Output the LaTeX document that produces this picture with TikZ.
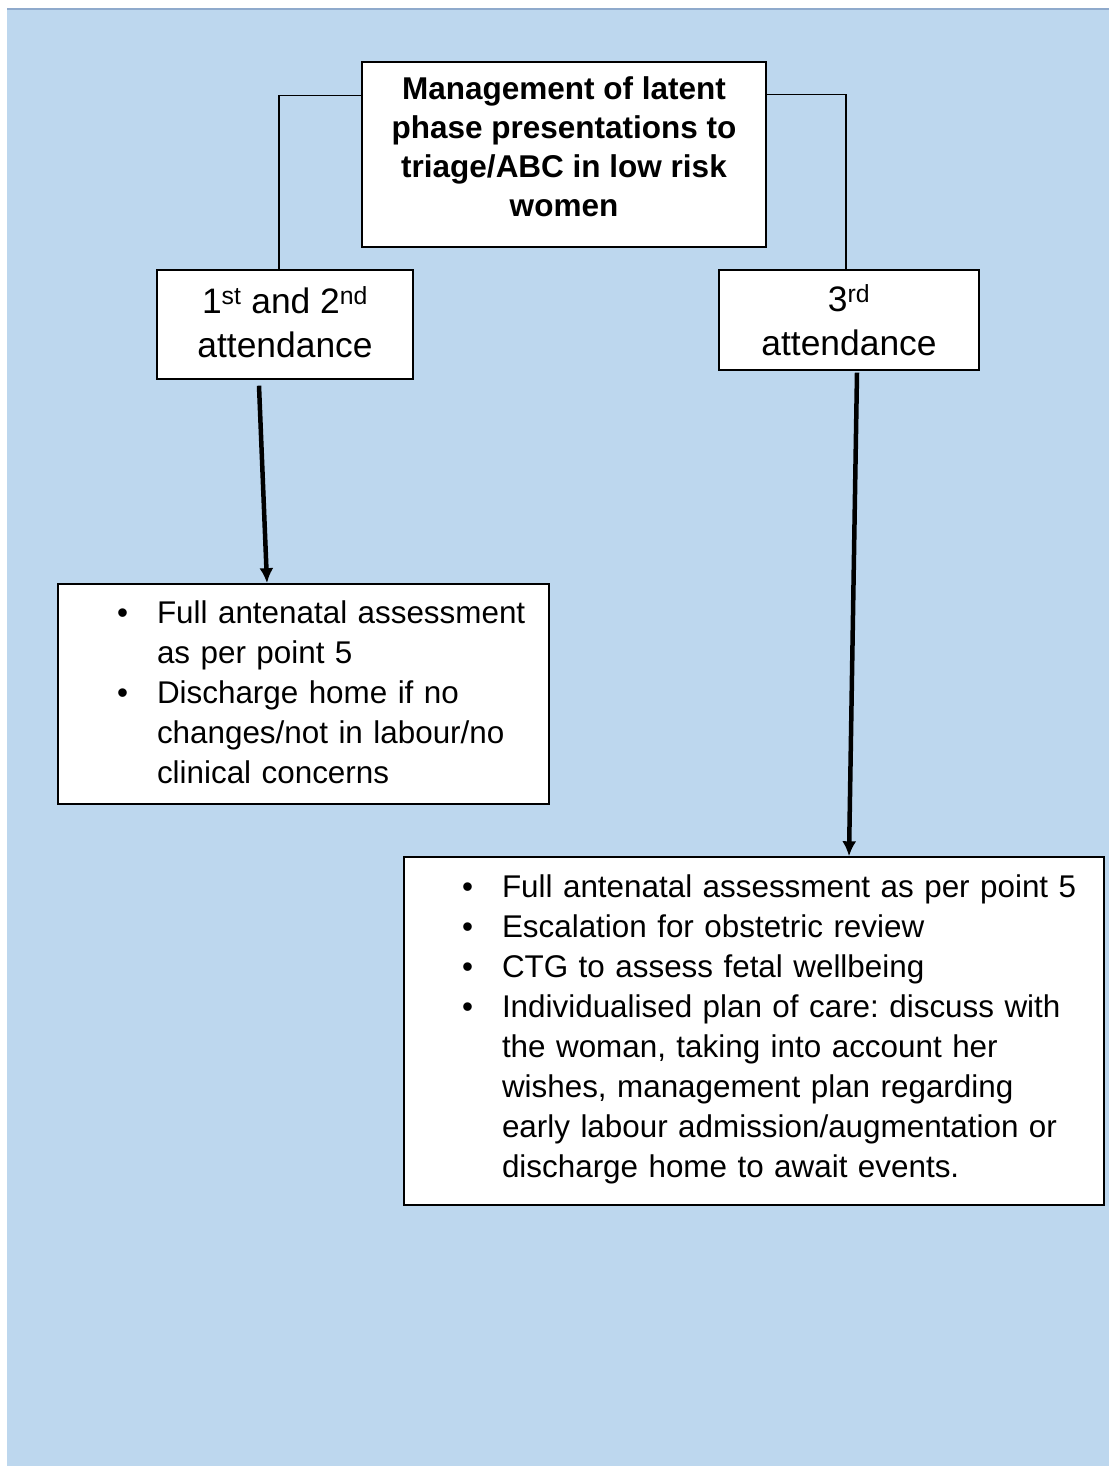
\documentclass[tikz,border=0pt]{standalone}
\usepackage{fontspec}
\setmainfont{Liberation Sans}
\usetikzlibrary{arrows.meta}

\definecolor{hintergrund}{RGB}{189,215,238}
\definecolor{kante}{RGB}{143,170,204}

\frenchspacing

\newenvironment{punktliste}[1]{%
  \begin{list}{\textbullet}{%
    \setlength{\leftmargin}{#1}\setlength{\labelsep}{29pt}%
    \setlength{\itemsep}{0pt}\setlength{\topsep}{0pt}%
    \setlength{\parsep}{0pt}\setlength{\partopsep}{0pt}}}%
  {\end{list}\vskip20pt\hrule height0pt width0pt}

\begin{document}
\begin{tikzpicture}[
    x=1pt, y=-1pt,
    kasten/.style={
      rectangle,
      draw,
      fill=white,
      line width=1.4pt,
      inner sep=0pt},
    titel/.style={
      kasten,
      font=\fontsize{31.5}{39}\selectfont\bfseries,
      align=center},
    besuch/.style={
      kasten,
      font=\fontsize{35.4}{44}\selectfont,
      align=center},
    liste/.style={
      kasten,
      font=\fontsize{31.4}{40}\selectfont,
      align=left,
      inner xsep=10pt},
    pfeil/.style={line width=4.5pt, -{Latex[length=15pt,width=14pt]}}
    ]

  \useasboundingbox (0,0) rectangle (1109,1466);
  \fill[hintergrund] (7,9) rectangle (1109,1466);
  \draw[kante, line width=2pt] (7,9.5) -- (1109,9.5);

  \node at (564,154.5) (titel) [titel, minimum width=404, minimum height=185, text depth=15pt]
    {Management of latent\\phase presentations to\\triage/ABC in low risk\\women};

  \node at (285,324.5) (besuch1) [besuch, minimum width=256, minimum height=109, text depth=5pt]
    {1\textsuperscript{st} and 2\textsuperscript{nd}\\attendance};

  \node at (849,320) (besuch3) [besuch, minimum width=260, minimum height=100]
    {3\textsuperscript{rd}\\attendance};

  \node at (303.5,694) (plan1) [liste, text width=471, minimum height=218]
    {\begin{punktliste}{89pt}
      \item Full antenatal assessment\newline as per point 5
      \item Discharge home if no\newline changes/not in labour/no\newline clinical concerns
     \end{punktliste}};

  \node at (754,1031) (plan3) [liste, text width=680, minimum height=348]
    {\begin{punktliste}{88pt}
      \item Full antenatal assessment as per point 5
      \item Escalation for obstetric review
      \item CTG to assess fetal wellbeing
      \item Individualised plan of care: discuss with\newline
        the woman, taking into account her\newline
        wishes, management plan regarding\newline
        early labour admission/augmentation or\newline
        discharge home to await events.
     \end{punktliste}};

  \draw [line width=1.4pt] ([yshift=-34pt]titel.north west) -| ([xshift=-6pt]besuch1.north);
  \draw [line width=1.4pt] ([yshift=-33pt]titel.north east) -| ([xshift=-3pt]besuch3.north);

  \path ([xshift=-26pt,yshift=-6pt]besuch1.south) edge [pfeil] ([xshift=-36.5pt]plan1.north);
  \path ([xshift=8pt,yshift=-2pt]besuch3.south) edge [pfeil] ([xshift=95pt]plan3.north);

\end{tikzpicture}
\end{document}
